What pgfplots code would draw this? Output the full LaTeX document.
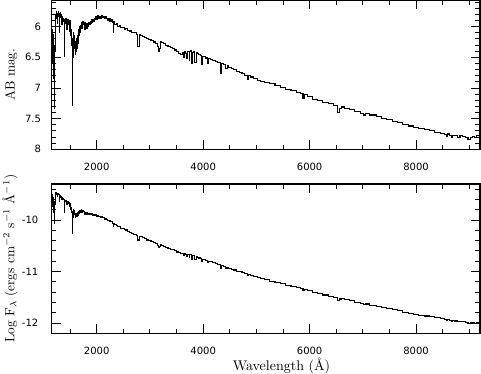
\documentclass[border=0pt]{standalone}
\usepackage{fontspec}
\usepackage{pgfplots}
\usepackage{pgfplotstable}
\pgfplotsset{compat=1.18}
\newfontfamily\tickfont{DejaVu Sans}

\pgfplotstableread{
lam ab logf
1150 6.10 -9.525
1155 6.55 -9.709
1160 6.05 -9.513
1165 6.60 -9.737
1170 6.15 -9.560
1178 6.35 -9.646
1185 6.12 -9.559
1192 6.85 -9.857
1198 6.30 -9.641
1205 7.05 -9.946
1212 7.33 -10.063
1218 6.40 -9.695
1224 6.00 -9.540
1232 5.80 -9.465
1240 5.86 -9.495
1248 5.76 -9.460
1256 5.82 -9.490
1262 5.95 -9.546
1268 5.78 -9.482
1276 5.84 -9.512
1284 5.76 -9.485
1292 5.80 -9.507
1300 6.10 -9.632
1306 5.79 -9.512
1314 5.82 -9.529
1322 5.77 -9.515
1330 5.85 -9.552
1338 5.80 -9.537
1346 5.97 -9.610
1352 5.84 -9.562
1360 5.88 -9.583
1368 5.92 -9.604
1376 5.86 -9.585
1384 5.90 -9.606
1392 6.49 -9.847
1398 5.92 -9.623
1406 5.88 -9.612
1414 5.95 -9.645
1422 5.87 -9.618
1430 5.91 -9.639
1438 6.05 -9.700
1446 5.89 -9.640
1454 5.92 -9.657
1462 5.88 -9.646
1470 5.96 -9.683
1478 5.90 -9.663
1486 6.08 -9.740
1494 5.93 -9.685
1502 5.90 -9.677
1510 5.98 -9.714
1518 6.15 -9.787
1526 6.05 -9.751
1534 6.30 -9.856
1540 6.60 -9.979
1546 7.28 -10.254
1552 6.50 -9.946
1558 6.20 -9.829
1566 6.10 -9.794
1574 6.35 -9.898
1582 6.15 -9.822
1590 6.30 -9.887
1598 6.45 -9.951
1606 6.25 -9.876
1614 6.40 -9.940
1622 6.20 -9.864
1630 6.35 -9.928
1638 6.15 -9.853
1646 6.28 -9.909
1654 6.10 -9.841
1662 6.20 -9.885
1670 6.05 -9.829
1678 6.15 -9.874
1686 6.00 -9.818
1694 6.10 -9.862
1702 5.98 -9.818
1712 5.93 -9.803
1720 6.03 -9.847
1730 5.92 -9.808
1740 5.95 -9.825
1750 5.91 -9.814
1760 5.97 -9.843
1770 5.93 -9.832
1780 6.05 -9.885
1790 5.94 -9.846
1800 5.98 -9.867
1812 5.95 -9.860
1824 6.03 -9.898
1836 5.96 -9.876
1848 5.99 -9.893
1860 5.94 -9.879
1872 5.97 -9.897
1884 5.92 -9.882
1896 5.95 -9.900
1908 5.89 -9.881
1920 5.93 -9.903
1935 5.88 -9.889
1950 5.91 -9.908
1965 5.86 -9.895
1980 5.89 -9.913
1995 5.84 -9.900
2010 5.88 -9.922
2025 5.82 -9.905
2040 5.86 -9.927
2060 5.83 -9.924
2080 5.87 -9.948
2100 5.82 -9.936
2120 5.85 -9.957
2140 5.83 -9.957
2160 5.87 -9.981
2180 5.84 -9.977
2200 5.86 -9.993
2220 5.90 -10.017
2240 5.87 -10.013
2260 5.91 -10.036
2280 5.89 -10.036
2300 5.93 -10.060
2315 6.10 -10.133
2325 5.92 -10.065
2350 5.96 -10.090
2380 5.95 -10.097
2410 5.99 -10.124
2440 5.98 -10.131
2470 6.02 -10.157
2500 6.01 -10.164
2530 6.04 -10.186
2560 6.03 -10.193
2600 6.06 -10.218
2640 6.07 -10.235
2680 6.09 -10.256
2720 6.10 -10.273
2760 6.12 -10.294
2790 6.33 -10.387
2805 6.13 -10.312
2840 6.14 -10.327
2880 6.16 -10.347
2920 6.18 -10.367
2960 6.20 -10.387
3000 6.21 -10.402
3040 6.22 -10.418
3080 6.25 -10.441
3120 6.28 -10.464
3150 6.33 -10.493
3170 6.40 -10.526
3190 6.36 -10.516
3205 6.24 -10.472
3240 6.26 -10.489
3280 6.28 -10.508
3320 6.30 -10.526
3360 6.32 -10.545
3400 6.34 -10.563
3440 6.36 -10.581
3480 6.38 -10.599
3520 6.41 -10.621
3560 6.43 -10.639
3600 6.45 -10.657
3630 6.42 -10.652
3650 6.50 -10.689
3660 6.41 -10.655
3680 6.43 -10.668
3700 6.52 -10.708
3712 6.40 -10.663
3730 6.41 -10.671
3745 6.55 -10.731
3755 6.40 -10.673
3775 6.39 -10.674
3790 6.60 -10.761
3800 6.42 -10.692
3830 6.40 -10.690
3860 6.58 -10.769
3875 6.42 -10.709
3900 6.44 -10.722
3930 6.46 -10.737
3960 6.47 -10.747
3975 6.62 -10.811
3990 6.48 -10.758
4030 6.49 -10.771
4070 6.51 -10.787
4100 6.60 -10.830
4115 6.52 -10.801
4150 6.53 -10.812
4200 6.55 -10.831
4250 6.57 -10.849
4300 6.59 -10.867
4335 6.76 -10.942
4350 6.60 -10.881
4400 6.62 -10.899
4440 6.68 -10.931
4460 6.63 -10.915
4500 6.66 -10.934
4550 6.68 -10.952
4600 6.70 -10.970
4650 6.73 -10.991
4700 6.75 -11.008
4760 6.77 -11.027
4800 6.79 -11.043
4850 6.86 -11.080
4870 6.80 -11.059
4920 6.82 -11.076
4980 6.84 -11.095
5050 6.87 -11.119
5120 6.89 -11.139
5200 6.91 -11.160
5300 6.93 -11.185
5400 6.96 -11.213
5500 6.99 -11.241
5600 7.02 -11.268
5700 7.04 -11.292
5800 7.07 -11.319
5860 7.09 -11.336
5890 7.17 -11.372
5910 7.11 -11.351
6000 7.14 -11.376
6100 7.18 -11.407
6200 7.21 -11.433
6300 7.23 -11.455
6400 7.26 -11.480
6500 7.29 -11.506
6550 7.40 -11.557
6580 7.33 -11.533
6620 7.31 -11.530
6700 7.33 -11.548
6800 7.35 -11.569
6900 7.38 -11.594
7000 7.41 -11.618
7040 7.44 -11.635
7060 7.42 -11.630
7200 7.44 -11.655
7300 7.47 -11.679
7400 7.50 -11.703
7500 7.52 -11.722
7600 7.55 -11.746
7700 7.57 -11.765
7800 7.60 -11.788
7900 7.62 -11.807
8000 7.64 -11.826
8100 7.66 -11.845
8200 7.68 -11.864
8300 7.70 -11.882
8400 7.72 -11.901
8500 7.74 -11.919
8560 7.76 -11.933
8580 7.79 -11.947
8600 7.75 -11.933
8650 7.77 -11.946
8670 7.80 -11.960
8700 7.77 -11.951
8750 7.78 -11.960
8800 7.80 -11.973
8850 7.78 -11.970
8900 7.79 -11.979
8950 7.81 -11.992
9000 7.84 -12.009
9030 7.80 -11.995
9080 7.79 -11.996
9120 7.81 -12.008
9150 7.78 -11.999
9200 7.78 -12.004
}\spectrum

\pgfplotsset{
  specaxis/.style={
    scale only axis,
    width=321.2pt, height=112pt,
    anchor=south west,
    xmin=1155, xmax=9200,
    xtick={2000,4000,6000,8000},
    minor xtick={1500,2500,3000,3500,4500,5000,5500,6500,7000,7500,8500,9000},
    major tick length=7pt, minor tick length=3.5pt,
    tick style={black, line width=0.7pt},
    axis line style={line width=0.8pt},
    tick label style={font=\tickfont\fontsize{7.5}{9}\selectfont},
    xticklabel style={yshift=-6.5pt},
    every axis y label/.style={rotate=90, anchor=center},
    label style={font=\fontsize{10}{12}\selectfont},
  }
}

\begin{document}
\begin{tikzpicture}
\path[use as bounding box] (0,0) rectangle (360.75pt,280.5pt);
\begin{axis}[specaxis,
  at={(38.78pt,168.5pt)},
  y dir=reverse,
  ymin=5.5645, ymax=8,
  ytick={6,6.5,7,7.5,8},
  yticklabels={6,6.5,7,7.5,8},
  minor ytick={5.6,5.7,5.8,5.9,6.1,6.2,6.3,6.4,6.6,6.7,6.8,6.9,7.1,7.2,7.3,7.4,7.6,7.7,7.8,7.9},
  xticklabels={2000,4000,6000,8000},
  yticklabel style={xshift=-4.5pt},
  ylabel={AB mag.},
  ylabel style={at={(axis description cs:-0.0946,0.5)}},
]
\addplot[black, line width=0.8pt, const plot mark mid] table[x=lam, y=ab] {\spectrum};
\end{axis}
\begin{axis}[specaxis,
  at={(38.78pt,30.5pt)},
  ymin=-12.2, ymax=-9.3,
  ytick={-12,-11,-10},
  yticklabels={-12,-11,-10},
  minor ytick={-11.8,-11.6,-11.4,-11.2,-10.8,-10.6,-10.4,-10.2,-9.8,-9.6,-9.4},
  xticklabels={2000,4000,6000,8000},
  yticklabel style={xshift=-6.5pt},
  ylabel={Log F$_\lambda$ (ergs cm$^{-2}$ s$^{-1}$ Å$^{-1}$)},
  ylabel style={at={(axis description cs:-0.0974,0.5)}},
  xlabel={\addfontfeatures{LetterSpace=12}Wavelength (Å)},
  xlabel style={at={(axis description cs:0.5366,-0.219)}, anchor=center, font=\fontsize{10.5}{12}\selectfont},
]
\addplot[black, line width=0.8pt, const plot mark mid] table[x=lam, y=logf] {\spectrum};
\end{axis}
\end{tikzpicture}
\end{document}
